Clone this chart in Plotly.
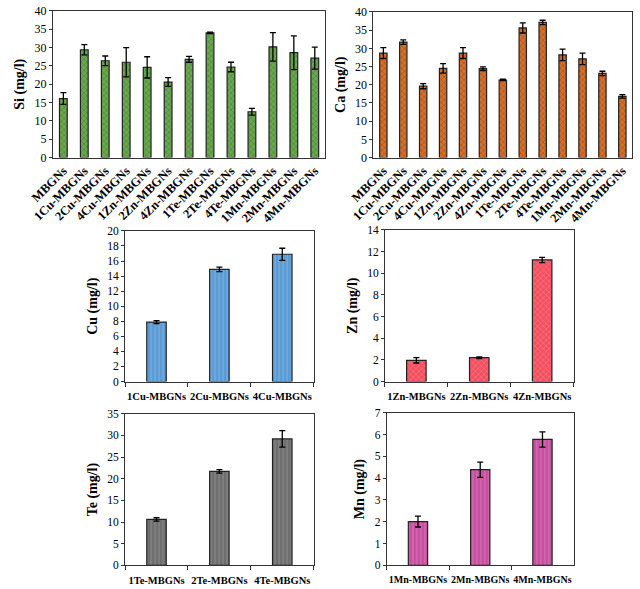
import plotly.graph_objects as go

# ---- data ----
all_cats = ["MBGNs", "1Cu-MBGNs", "2Cu-MBGNs", "4Cu-MBGNs", "1Zn-MBGNs", "2Zn-MBGNs",
            "4Zn-MBGNs", "1Te-MBGNs", "2Te-MBGNs", "4Te-MBGNs", "1Mn-MBGNs", "2Mn-MBGNs", "4Mn-MBGNs"]
si_vals = [16.1, 29.4, 26.4, 26.0, 24.6, 20.6, 26.8, 34.0, 24.7, 12.5, 30.2, 28.6, 27.1]
si_err = [1.6, 1.4, 1.3, 4.0, 2.9, 1.2, 0.8, 0.2, 1.3, 0.9, 3.9, 4.6, 3.0]
ca_vals = [28.7, 31.7, 19.6, 24.5, 28.7, 24.4, 21.3, 35.6, 37.1, 28.2, 27.1, 23.1, 16.8]
ca_err = [1.5, 0.6, 0.7, 1.3, 1.5, 0.5, 0.2, 1.4, 0.6, 1.6, 1.6, 0.6, 0.5]

cu_cats = ["1Cu-MBGNs", "2Cu-MBGNs", "4Cu-MBGNs"]
cu_vals = [7.9, 14.9, 16.9]
cu_err = [0.2, 0.3, 0.8]
zn_cats = ["1Zn-MBGNs", "2Zn-MBGNs", "4Zn-MBGNs"]
zn_vals = [1.96, 2.2, 11.23]
zn_err = [0.25, 0.08, 0.24]
te_cats = ["1Te-MBGNs", "2Te-MBGNs", "4Te-MBGNs"]
te_vals = [10.6, 21.7, 29.2]
te_err = [0.4, 0.4, 1.9]
mn_cats = ["1Mn-MBGNs", "2Mn-MBGNs", "4Mn-MBGNs"]
mn_vals = [2.01, 4.39, 5.78]
mn_err = [0.25, 0.35, 0.35]

W, H = 640, 589

def xd(a, b):
    return [a / W, b / W]

def yd(top, bot):
    return [1 - bot / H, 1 - top / H]

panels = [
    # cats, vals, err, color, fg, shape, title, ymax, dtick, xdom, ydom, width, rotated, xfont
    (all_cats, si_vals, si_err, "#6aa84f", "#3d6b2a", "x", "Si (mg/l)", 40, 5, xd(30, 313), yd(5, 155), 0.37, True, 12.5),
    (all_cats, ca_vals, ca_err, "#d4702c", "#8a3a10", "x", "Ca (mg/l)", 40, 5, xd(363, 632), yd(6, 155), 0.37, True, 12.5),
    (cu_cats, cu_vals, cu_err, "#5b9bd5", "#8fbbe6", "|", "Cu (mg/l)", 20, 2, xd(105, 301), yd(230, 384), 0.31, False, 10.5),
    (zn_cats, zn_vals, zn_err, "#f2505f", "#ff8fa0", "x", "Zn (mg/l)", 14, 2, xd(375, 571), yd(229, 384), 0.31, False, 10.5),
    (te_cats, te_vals, te_err, "#6e6e6e", "#9a9a9a", "|", "Te (mg/l)", 35, 5, xd(105, 301), yd(417, 572), 0.31, False, 10.5),
    (mn_cats, mn_vals, mn_err, "#c64f9f", "#e08ac4", "|", "Mn (mg/l)", 7, 1, xd(377, 571), yd(416, 572), 0.31, False, 10),
]

fig = go.Figure()
layout = {}
for i, (cats, vals, err, col, fg, shape, title, ymax, dt, xdom, ydom, bw, rot, xfs) in enumerate(panels):
    n = "" if i == 0 else str(i + 1)
    fig.add_trace(go.Bar(
        x=cats, y=vals, xaxis="x" + n, yaxis="y" + n, width=bw,
        marker=dict(color=col, line=dict(color="#222222", width=1.2),
                    pattern=dict(shape=shape, fgcolor=fg, size=4, solidity=0.35)),
        error_y=dict(type="data", array=err, color="black", thickness=1.3, width=3),
        showlegend=False,
    ))
    layout["xaxis" + n] = dict(
        domain=xdom, anchor="y" + n, type="category",
        showline=True, linecolor="#333333", linewidth=1, mirror=True,
        ticks="outside" if not rot else "", tickson="boundaries", ticklen=4, tickcolor="#333333",
        tickangle=-45 if rot else 0,
        ticklabelstandoff=0 if rot else 5,
        tickfont=dict(family="Liberation Serif", size=xfs, color="black", weight="bold"),
        showgrid=False,
    )
    layout["yaxis" + n] = dict(
        domain=ydom, anchor="x" + n, range=[0, ymax], dtick=dt,
        showline=True, linecolor="#333333", linewidth=1, mirror=True,
        ticks="outside", ticklen=3, tickcolor="#333333",
        tickfont=dict(family="Liberation Serif", size=12 if rot else 11.5, color="black"),
        title=dict(text=title, font=dict(family="Liberation Serif", size=14, color="black", weight="bold"), standoff=6),
        showgrid=False, zeroline=False,
    )

fig.update_layout(
    width=W, height=H, margin=dict(l=0, r=0, t=0, b=0),
    paper_bgcolor="white", plot_bgcolor="white", bargap=0.6,
    **layout,
)
fig.write_html("out.html")
